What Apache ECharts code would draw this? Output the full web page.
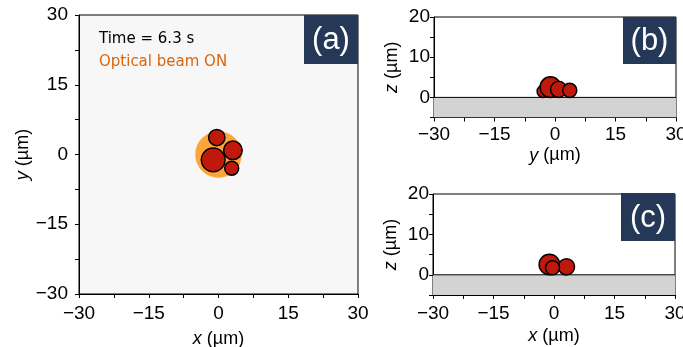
<!DOCTYPE html>
<html><head><meta charset="utf-8">
<script src="https://cdn.jsdelivr.net/npm/echarts@6/dist/echarts.min.js"></script>
<style>html,body{margin:0;padding:0;background:#fff}#c{width:683px;height:347px}</style>
</head><body><div id="c"></div>
<script>
// Particle data (µm)
const particleX = [2.84, -1.14, 3.1, -0.37];
const particleY = [-2.94, -1.14, 0.9, 3.65];
const particleZ = [1.5, 2.55, 2.0, 1.75];
const particleR = [1.5, 2.55, 2.0, 1.75];
// Optical beam spot
const beamCenter = [0, 0];
const beamRadius = 5.0;
// Substrate range in z
const substrateZ = [-5, 0];
const lateralRange = [-30, 30];
const xyTicks = [-30, -15, 0, 15, 30];
const zTicks = [0, 10, 20];
const timeText = 'Time = 6.3 s';
const beamText = 'Optical beam ON';
const panelLabels = ['(a)', '(b)', '(c)'];

const FONT = 'Liberation Sans, Arial, sans-serif';
const FS = 19;
const minus = v => String(v).replace('-', '\u2212');

function axisCommon(extra) {
  return Object.assign({
    type: 'value',
    axisLine: {show: true, onZero: false, lineStyle: {color: '#000', width: 1}},
    axisTick: {show: true, inside: false, length: 4, lineStyle: {color: '#000'}},
    minorTick: {show: true, splitNumber: 2, length: 4, lineStyle: {color: '#000'}},
    splitLine: {show: false},
    nameLocation: 'middle',
    nameTextStyle: {color: '#000', fontSize: 18, fontFamily: FONT,
      rich: {i: {fontStyle: 'italic', fontSize: 18, fontFamily: FONT, color: '#000'}}}
  }, extra);
}
function lbl(fmt, margin) {
  return {color: '#000', fontSize: FS, fontFamily: FONT, formatter: fmt, margin: margin};
}

function particleSeries(xi, yi, xs, ys) {
  const data = particleR.map((r, i) => [xs[i], ys[i], r]);
  return {
    type: 'custom', xAxisIndex: xi, yAxisIndex: yi, z: 5, clip: true,
    data: data,
    renderItem: function (params, api) {
      const c = api.coord([api.value(0), api.value(1)]);
      const r = api.size([api.value(2), 0])[0];
      return {type: 'circle', shape: {cx: c[0], cy: c[1], r: r},
        style: {fill: '#c0190c', stroke: '#000', lineWidth: 1.5}};
    }
  };
}

function substrateSeries(xi, yi) {
  return {
    type: 'custom', xAxisIndex: xi, yAxisIndex: yi, z: 2, clip: true,
    data: [[lateralRange[0], substrateZ[1], lateralRange[1], substrateZ[0]]],
    renderItem: function (params, api) {
      const p1 = api.coord([api.value(0), api.value(1)]);
      const p2 = api.coord([api.value(2), api.value(3)]);
      return {type: 'group', children: [
        {type: 'rect', shape: {x: p1[0], y: p1[1], width: p2[0] - p1[0], height: p2[1] - p1[1]},
          style: {fill: '#d3d3d3'}},
        {type: 'line', shape: {x1: p1[0], y1: p1[1], x2: p2[0], y2: p1[1]},
          style: {stroke: '#000', lineWidth: 1}}
      ]};
    }
  };
}

function labelBox(x, y, w, h, text) {
  return {type: 'group', left: x, top: y, z: 100, children: [
    {type: 'rect', shape: {x: 0, y: 0, width: w, height: h}, style: {fill: '#253858'}},
    {type: 'text', x: w / 2, y: h / 2 + 1, style: {text: text, fill: '#fff', font: '31px ' + FONT,
      align: 'center', verticalAlign: 'middle'}}
  ]};
}

const chart = echarts.init(document.getElementById('c'));
const lblFmt15 = v => (xyTicks.indexOf(v) >= 0 ? minus(v) : '');
const lblFmtZ = v => (zTicks.indexOf(v) >= 0 ? minus(v) : '');
const gridBase = {show: true, borderColor: '#000', borderWidth: 1, containLabel: false, outerBoundsMode: 'none'};

chart.setOption({
  animation: false,
  grid: [
    Object.assign({left: 79, top: 15, width: 279, height: 279, backgroundColor: '#f7f7f7'}, gridBase),
    Object.assign({left: 434, top: 17, width: 242, height: 100.5, backgroundColor: '#fff'}, gridBase),
    Object.assign({left: 433, top: 194, width: 242, height: 101, backgroundColor: '#fff'}, gridBase)
  ],
  xAxis: [
    axisCommon({gridIndex: 0, min: -30, max: 30, interval: 15, name: '{i|x} (µm)', nameGap: 36, axisLabel: lbl(lblFmt15, 10)}),
    axisCommon({gridIndex: 1, min: -30, max: 30, interval: 15, name: '{i|y} (µm)', nameGap: 29, axisLabel: lbl(lblFmt15, 8)}),
    axisCommon({gridIndex: 2, min: -30, max: 30, interval: 15, name: '{i|x} (µm)', nameGap: 32, axisLabel: lbl(lblFmt15, 9)})
  ],
  yAxis: [
    axisCommon({gridIndex: 0, min: -30, max: 30, interval: 15, name: '{i|y} (µm)', nameGap: 46, axisLabel: lbl(lblFmt15, 11)}),
    axisCommon({gridIndex: 1, min: -5, max: 20, interval: 5, name: '{i|z} (µm)', nameGap: 33,
      minorTick: {show: false}, axisLabel: lbl(lblFmtZ, 4)}),
    axisCommon({gridIndex: 2, min: -5, max: 20, interval: 5, name: '{i|z} (µm)', nameGap: 33,
      minorTick: {show: false}, axisLabel: lbl(lblFmtZ, 4)})
  ],
  series: [
    {
      type: 'custom', xAxisIndex: 0, yAxisIndex: 0, z: 3,
      data: [[beamCenter[0], beamCenter[1], beamRadius]],
      renderItem: function (params, api) {
        const c = api.coord([api.value(0), api.value(1)]);
        const r = api.size([api.value(2), 0])[0];
        return {type: 'circle', shape: {cx: c[0], cy: c[1], r: r}, style: {fill: '#fca63a'}};
      }
    },
    particleSeries(0, 0, particleX, particleY),
    substrateSeries(1, 1),
    particleSeries(1, 1, particleY, particleZ),
    substrateSeries(2, 2),
    particleSeries(2, 2, particleX, particleZ)
  ],
  graphic: [
    {type: 'text', left: 99, top: 32, z: 100, style: {text: timeText, fill: '#000', font: '15px DejaVu Sans'}},
    {type: 'text', left: 99, top: 55, z: 100, style: {text: beamText, fill: '#d9650f', font: '15px DejaVu Sans'}},
    labelBox(304, 15, 54, 49, panelLabels[0]),
    labelBox(623, 17, 53, 47, panelLabels[1]),
    labelBox(621, 193, 54, 48, panelLabels[2])
  ]
});
</script></body></html>
